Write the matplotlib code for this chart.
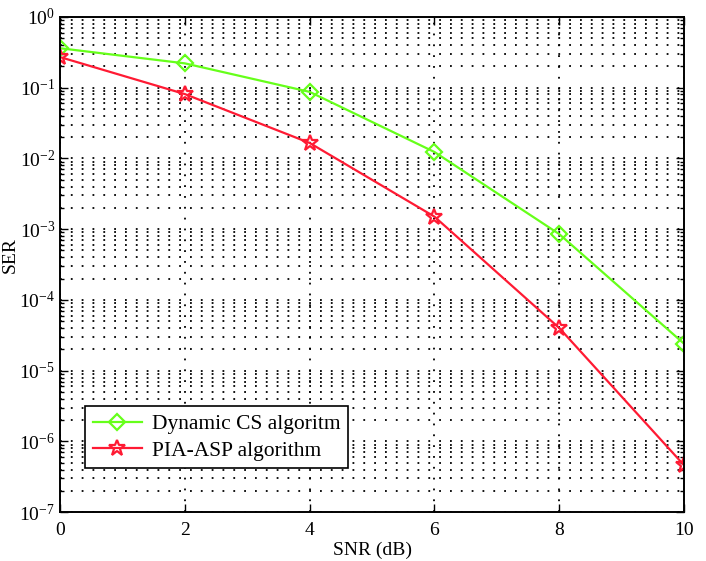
import matplotlib
matplotlib.use("Agg")
import matplotlib.pyplot as plt
import numpy as np

plt.rcParams['font.family'] = ['Liberation Serif', 'DejaVu Serif']
plt.rcParams['mathtext.fontset'] = 'stix'

snr = [0, 2, 4, 6, 8, 10]
ser_dynamic_cs = [0.36, 0.22, 0.087, 0.0123, 8.5e-4, 2.4e-5]
ser_pia_asp = [0.27, 0.081, 0.0165, 1.5e-3, 4.0e-5, 4.6e-7]

green = '#66FF1A'
red = '#FF1A33'

fig = plt.figure(figsize=(7.06, 5.61), dpi=100)
ax = fig.add_axes([0.085, 0.087, 0.884, 0.883])

ax.semilogy(snr, ser_dynamic_cs, color=green, lw=1.6, marker='D',
            markersize=8, markerfacecolor='none', markeredgewidth=1.6,
            label='Dynamic CS algoritm')
ax.semilogy(snr, ser_pia_asp, color=red, lw=1.6, marker='*',
            markersize=12, markerfacecolor='none', markeredgewidth=1.6,
            label='PIA-ASP algorithm')

ax.set_xlim(0, 10)
ax.set_ylim(1e-7, 1)
ax.set_xticks(snr)
ax.set_yticks([10.0**k for k in range(-7, 1)])

ax.grid(True, which='major', axis='x', color='black', lw=1.3,
        linestyle=(0, (1, 5)))
ax.grid(True, which='both', axis='y', color='black', lw=1.3,
        linestyle=(0, (1, 5)))

ax.tick_params(which='both', direction='in', top=True, right=True,
               labelsize=14, width=1.0)
ax.tick_params(which='major', length=6)
ax.tick_params(which='minor', length=3)
ax.tick_params(axis='x', pad=7)
for s in ax.spines.values():
    s.set_linewidth(1.4)

ax.set_xlabel('SNR (dB)', fontsize=14, labelpad=2)
ax.set_ylabel('SER', fontsize=14)
ax.yaxis.set_label_coords(-0.066, 0.52)

leg = ax.legend(loc='lower left', bbox_to_anchor=(0.04, 0.089),
                borderaxespad=0, fontsize=15.5,
                fancybox=False, framealpha=1, edgecolor='black',
                handlelength=2.3, borderpad=0.35, labelspacing=0.3,
                handletextpad=0.45)
leg.get_frame().set_linewidth(1.2)

fig.savefig('out.png', dpi=100)
